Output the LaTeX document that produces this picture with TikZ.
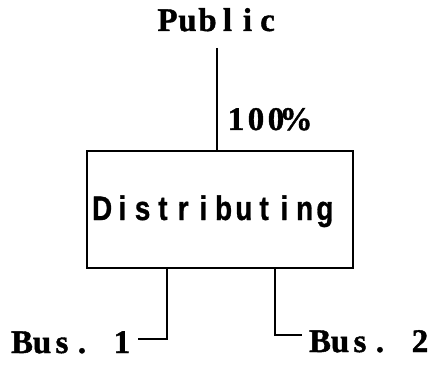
\documentclass[tikz,border=0pt]{standalone}
\usepackage{fontspec}
\usepackage{graphicx}
\newfontfamily\serifb{Liberation Serif}[BoldFeatures={FakeBold=1.2}]
\newfontfamily\sansb{Liberation Sans}[BoldFeatures={FakeBold=1}]
\newcommand\cb[1]{\makebox[20pt][c]{#1}}
\newcommand\cd[1]{\makebox[20.25pt][c]{\scalebox{0.82}[1]{#1}}}
\tikzset{
  lbl/.style={inner sep=0pt, outer sep=0pt, font=\serifb\bfseries\fontsize{33}{33}\selectfont},
  boxlbl/.style={inner sep=0pt, outer sep=0pt, font=\sansb\bfseries\fontsize{34}{34}\selectfont},
  conn/.style={line width=1.8pt},
  procbox/.style={draw, line width=1.8pt, minimum width=266pt, minimum height=117pt, inner sep=0pt, outer sep=0pt}
}
\begin{document}
\begin{tikzpicture}[x=1pt,y=1pt]
\useasboundingbox (0,0) rectangle (435,364);
\node[lbl, anchor=base] (public) at (217.5,333) {\cb{P}\cb{u}\cb{b}\cb{l}\cb{i}\cb{c}};
\node[procbox] (dist) at (220,154.5) {};
\node[boxlbl, anchor=base] (distlbl) at (213.5,144) {\cd{D}\cd{i}\cd{s}\cd{t}\cd{r}\cd{i}\cd{b}\cd{u}\cd{t}\cd{i}\cd{n}\cd{g}};
\node[lbl, anchor=base west] (pct) at (226,234) {\cb{1}\cb{0}\cb{0}\cb{\%}};
\node[lbl, anchor=base west] (bus1) at (12,11) {\cb{B}\cb{u}\cb{s}\cb{.}\cb{ }\cb{1}};
\node[lbl, anchor=base west] (bus2) at (310,12) {\cb{B}\cb{u}\cb{s}\cb{.}\cb{ }\cb{2}};
\coordinate (ptop) at (217,316);
\coordinate (b1top) at (167,96);
\coordinate (b1end) at (138,25);
\coordinate (b2top) at (275,96);
\coordinate (b2end) at (302,29);
\draw[conn] (ptop) -- (ptop |- dist.north);
\draw[conn] (b1top |- dist.south) -- (b1top |- b1end) -- (b1end);
\draw[conn] (b2top |- dist.south) -- (b2top |- b2end) -- (b2end);
\end{tikzpicture}
\end{document}
